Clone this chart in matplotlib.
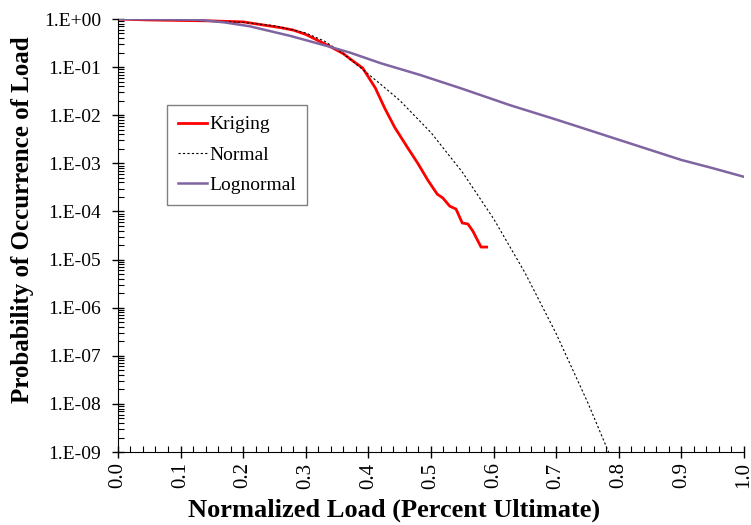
import numpy as np
import matplotlib.pyplot as plt
from matplotlib.ticker import FixedLocator, FuncFormatter, MultipleLocator, LogLocator, NullFormatter

plt.rcParams["font.family"] = ["Liberation Serif", "DejaVu Serif"]

# Kriging curve (normalized load, log10 probability)
krig_x = [0.0, 0.05, 0.10, 0.15, 0.20, 0.23, 0.26, 0.28, 0.30, 0.32, 0.34, 0.36, 0.371,
          0.391, 0.411, 0.426, 0.442, 0.463, 0.479, 0.495, 0.510, 0.519, 0.530, 0.540,
          0.550, 0.559, 0.567, 0.580, 0.589]
krig_log = [0.0, -0.02, -0.03, -0.04, -0.06, -0.12, -0.18, -0.23, -0.32, -0.45, -0.58,
            -0.72, -0.83, -1.02, -1.43, -1.85, -2.25, -2.68, -3.00, -3.35, -3.64, -3.72,
            -3.89, -3.95, -4.24, -4.26, -4.41, -4.74, -4.74]

# Normal fit
norm_x = [0.0, 0.10, 0.20, 0.25, 0.30, 0.33, 0.36, 0.391, 0.42, 0.45, 0.50, 0.55,
          0.60, 0.65, 0.70, 0.75, 0.784]
norm_log = [0.0, -0.02, -0.07, -0.14, -0.29, -0.46, -0.72, -1.05, -1.36, -1.69, -2.36,
            -3.18, -4.15, -5.27, -6.54, -7.96, -9.01]

# Lognormal fit
logn_x = [0.0, 0.10, 0.131, 0.17, 0.21, 0.275, 0.334, 0.371, 0.42, 0.482, 0.55, 0.626,
          0.70, 0.743, 0.80, 0.85, 0.90, 0.95, 1.0]
logn_log = [0.0, -0.01, -0.02, -0.07, -0.15, -0.35, -0.56, -0.70, -0.92, -1.16, -1.45,
            -1.79, -2.09, -2.27, -2.51, -2.72, -2.93, -3.10, -3.28]

fig = plt.figure(figsize=(7.51, 5.25), dpi=100)
ax = fig.add_axes([0.157, 0.139, 0.8337, 0.8248])

ax.plot(krig_x, 10 ** np.array(krig_log), color="#FF0000", lw=2.0, label="Kriging")
ax.plot(norm_x, 10 ** np.array(norm_log), color="black", lw=0.8, ls=(0, (2, 2)), label="Normal")
ax.plot(logn_x, 10 ** np.array(logn_log), color="#8064A2", lw=1.8, label="Lognormal")

ax.set_yscale("log")
ax.set_xlim(0, 1.0)
ax.set_ylim(1e-9, 1.0)

ax.xaxis.set_major_locator(MultipleLocator(0.1))
ax.xaxis.set_minor_locator(MultipleLocator(0.02))
ax.xaxis.set_major_formatter(FuncFormatter(lambda v, p: "%.1f" % v))
ax.yaxis.set_major_locator(FixedLocator([10.0 ** k for k in range(-9, 1)]))
ax.yaxis.set_minor_locator(LogLocator(base=10, subs=np.arange(2, 10), numticks=20))
ax.yaxis.set_minor_formatter(NullFormatter())
ax.yaxis.set_major_formatter(FuncFormatter(lambda v, p: "1.E%+03d" % int(round(np.log10(v)))))

ax.tick_params(which="major", direction="inout", length=8, width=1, labelsize=14)
ax.tick_params(axis="x", which="major", labelsize=15)
ax.tick_params(axis="y", which="major", pad=8)
ax.tick_params(which="minor", direction="in", length=4, width=0.8)
plt.setp(ax.get_xticklabels(), rotation=90)

for s in ["top", "right"]:
    ax.spines[s].set_visible(False)

ax.set_xlabel("Normalized Load (Percent Ultimate)", fontsize=19, fontweight="bold")
ax.set_ylabel("Probability of Occurrence of Load", fontsize=18, fontweight="bold")
ax.xaxis.set_label_coords(0.441, -0.108)
ax.yaxis.set_label_coords(-0.134, 0.536)

leg = ax.legend(loc="upper left", bbox_to_anchor=(0.2224, 0.80), bbox_transform=fig.transFigure,
                borderaxespad=0, fontsize=14, fancybox=False, framealpha=1, edgecolor="#808080",
                handlelength=1.5, handletextpad=0.15, labelspacing=0.65, borderpad=0.55)
leg.get_frame().set_linewidth(1.0)

fig.savefig("out.png", dpi=100)
